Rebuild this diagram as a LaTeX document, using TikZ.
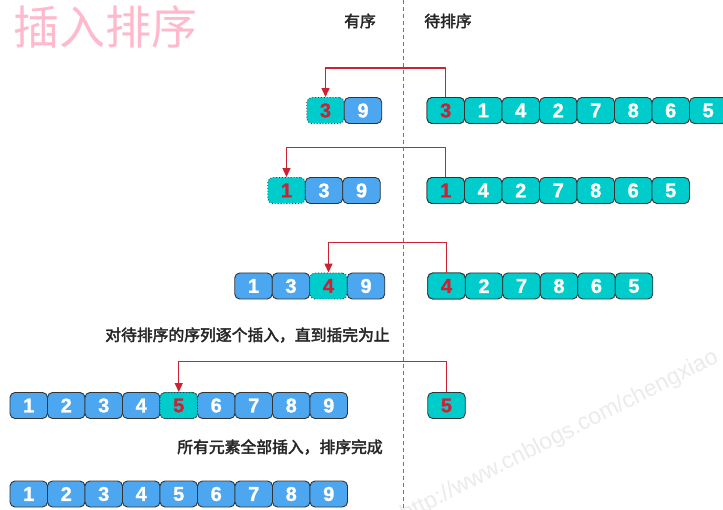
\documentclass[tikz,border=0pt]{standalone}
\usepackage{fontspec}
\setmainfont{Liberation Sans}[BoldFeatures={FakeBold=1.2}]
\newfontfamily\cjk{Noto Sans CJK SC}[AutoFakeBold=2.5]
\newfontfamily\cjklight{Noto Sans CJK SC}
\usetikzlibrary{arrows.meta}
\definecolor{teal0}{RGB}{0,204,204}
\definecolor{blue0}{RGB}{77,166,240}
\definecolor{red0}{RGB}{204,34,51}
\definecolor{pink0}{RGB}{255,185,205}
\definecolor{sep}{RGB}{105,115,145}
\tikzset{
 cell/.style={draw=black!80, line width=0.9pt, rounded corners=5pt, minimum width=37.5pt, minimum height=26pt, inner sep=0pt, font=\bfseries\fontsize{20}{20}\selectfont, text=white},
 blu/.style={cell, fill=blue0},
 tea/.style={cell, fill=teal0},
 hot/.style={tea, text=red0},
 ghost/.style={hot, dotted},
 mover/.style={draw=red0, line width=1.2pt, -{Triangle[length=9pt,width=8pt]}},
 head/.style={font=\cjk\bfseries\fontsize{15.8}{15.8}\selectfont, text=black!85},
}
\begin{document}
\begin{tikzpicture}[x=1pt,y=-1pt]
\useasboundingbox[fill=white] (0,0) rectangle (723,510);
\begin{scope}
\clip (0,0) rectangle (723,510);
\node[anchor=base west, rotate=27, text=black!8, font=\fontsize{23}{23}\selectfont, inner sep=0pt] (wm) at (405,522) {http://www.cnblogs.com/chengxiao};
\end{scope}
% title
\node[anchor=west, text=pink0, font=\cjklight\fontsize{46}{46}\selectfont, inner sep=0pt] (title) at (13,27) {插入排序};
% headers
\node[head] (h1) at (360,21) {有序};
\node[head] (h2) at (448,21) {待排序};
\coordinate (st) at (403,0);
\coordinate (sb) at (403,510);
\draw[sep, line width=1pt, dash pattern=on 4pt off 3pt] (st) -- (sb);
% row 1
\node[ghost] (a3) at (325.5,110.5) {3};
\node[blu] (a9) at (363,110.5) {9};
\foreach \v [count=\i from 0] in {3,1,4,2,7,8,6,5} {
  \node[tea] (ar\i) at (445.75+37.5*\i,110.5) {\v};
}
\node[hot] at (ar0) {3};
\draw[mover] (ar0.north) -- ++(0,-29) -| (a3.north);
% row 2
\node[ghost] (b1) at (286.5,190.5) {1};
\node[blu] (b3) at (324,190.5) {3};
\node[blu] (b9) at (361.5,190.5) {9};
\foreach \v [count=\i from 0] in {1,4,2,7,8,6,5} {
  \node[tea] (br\i) at (445.75+37.5*\i,190.5) {\v};
}
\node[hot] at (br0) {1};
\draw[mover] (br0.north) -- ++(0,-29.5) -| (b1.north);
% row 3
\node[blu] (c1) at (253.5,286) {1};
\node[blu] (c3) at (291,286) {3};
\node[ghost] (c4) at (328.5,286) {4};
\node[blu] (c9) at (366,286) {9};
\foreach \v [count=\i from 0] in {4,2,7,8,6,5} {
  \node[tea] (cr\i) at (446.5+37.5*\i,286) {\v};
}
\node[hot] at (cr0) {4};
\draw[mover] (cr0.north) -- ++(0,-30) -| (c4.north);
% text
\node[head] (t1) at (247.5,335) {对待排序的序列逐个插入，直到插完为止};
% row 4
\foreach \v [count=\i from 0] in {1,2,3,4,5,6,7,8,9} {
  \node[blu] (d\i) at (28.75+37.5*\i,405.5) {\v};
}
\node[ghost] at (d4) {5};
\node[hot] (dr) at (446.5,405.5) {5};
\draw[mover] (dr.north) -- ++(0,-30.5) -| (d4.north);
% text
\node[head] (t2) at (280,447) {所有元素全部插入，排序完成};
% row 5
\foreach \v [count=\i from 0] in {1,2,3,4,5,6,7,8,9} {
  \node[blu] (e\i) at (28.75+37.5*\i,494) {\v};
}
\end{tikzpicture}
\end{document}
